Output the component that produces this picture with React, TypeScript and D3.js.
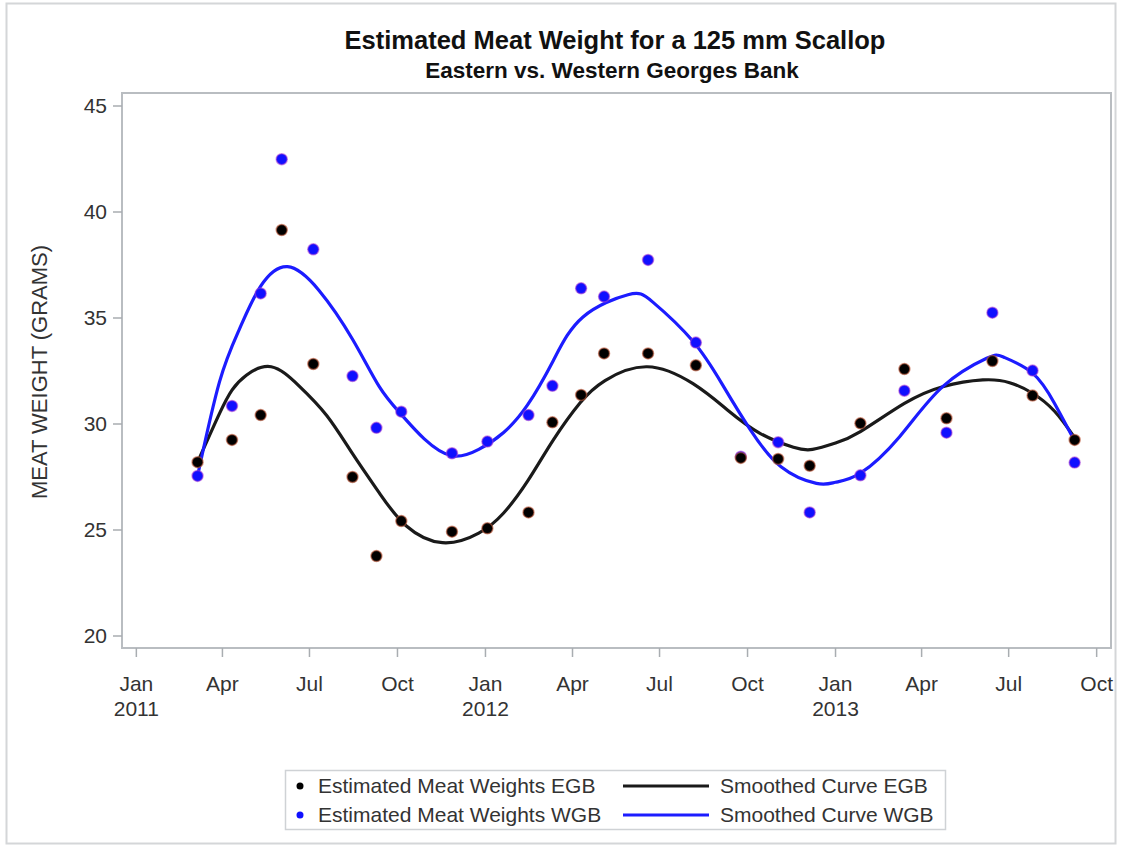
import { useEffect, useRef } from "react"
import * as d3 from "d3"

// sample dates and estimated meat weights (grams)
const sampleDates = [
  "2011-03-06", "2011-04-11", "2011-05-11", "2011-06-02", "2011-07-05",
  "2011-08-15", "2011-09-09", "2011-10-05", "2011-11-27", "2012-01-03",
  "2012-02-15", "2012-03-11", "2012-04-10", "2012-05-04", "2012-06-19",
  "2012-08-08", "2012-09-24", "2012-11-02", "2012-12-05", "2013-01-27",
  "2013-03-14", "2013-04-27", "2013-06-14", "2013-07-26", "2013-09-08",
]
const egbWeights = [
  28.2, 29.25, 30.42, 39.15, 32.83,
  27.5, 23.77, 25.42, 24.92, 25.08,
  25.83, 30.08, 31.37, 33.33, 33.33,
  32.77, 28.4, 28.35, 28.03, 30.03,
  32.59, 30.27, 32.97, 31.34, 29.25,
]
const wgbWeights = [
  27.55, 30.85, 36.16, 42.49, 38.24,
  32.26, 29.82, 30.58, 28.62, 29.17,
  30.42, 31.8, 36.4, 36.01, 37.74,
  33.84, 28.46, 29.14, 25.83, 27.58,
  31.57, 29.59, 35.25, 32.52, 28.18,
]

// smoothed curves
const egbCurveDates = [
  "2011-03-06", "2011-03-29", "2011-04-11", "2011-04-26", "2011-05-22",
  "2011-06-20", "2011-07-19", "2011-08-15", "2011-09-12", "2011-10-10",
  "2011-11-17", "2011-12-25", "2012-01-20", "2012-02-14", "2012-03-12",
  "2012-04-09", "2012-05-05", "2012-06-18", "2012-08-05", "2012-09-10",
  "2012-10-14", "2012-11-18", "2012-12-08", "2013-01-01", "2013-01-27",
  "2013-03-14", "2013-04-23", "2013-06-04", "2013-07-02", "2013-07-26",
  "2013-08-18", "2013-09-08",
]
const egbCurve = [
  28.2, 30.5, 31.6, 32.3, 32.7,
  31.8, 30.4, 28.6, 26.75, 25.2,
  24.4, 24.85, 25.8, 27.3, 29.25,
  31.0, 32.05, 32.7, 31.9, 30.66,
  29.56, 28.9, 28.8, 29.1, 29.64,
  30.97, 31.76, 32.08, 31.95, 31.45,
  30.6, 29.35,
]
const wgbCurveDates = [
  "2011-03-06", "2011-03-29", "2011-04-19", "2011-05-11", "2011-06-08",
  "2011-07-11", "2011-08-15", "2011-09-12", "2011-10-04",
  "2011-10-29", "2011-11-27", "2011-12-25", "2012-01-20", "2012-02-14",
  "2012-03-12", "2012-04-12", "2012-05-29", "2012-06-24",
  "2012-08-05", "2012-09-06", "2012-10-04", "2012-11-05", "2012-12-12",
  "2013-01-01", "2013-01-27", "2013-03-09", "2013-04-23", "2013-06-08",
  "2013-06-26", "2013-07-26", "2013-08-18", "2013-09-08",
]
const wgbCurve = [
  27.55, 32.0, 34.5, 36.5, 37.42,
  36.3, 34.0, 31.76, 30.5,
  29.3, 28.5, 28.8, 29.6, 30.9,
  33.0, 35.05, 36.1, 35.75,
  33.9, 31.76, 29.72, 27.98, 27.2,
  27.25, 27.68, 29.4, 31.76, 33.1,
  33.15, 32.4, 30.97, 29.2,
]

const yTicks = [20, 25, 30, 35, 40, 45]
const xTickDates = [
  "2011-01-01", "2011-04-01", "2011-07-01", "2011-10-01",
  "2012-01-01", "2012-04-01", "2012-07-01", "2012-10-01",
  "2013-01-01", "2013-04-01", "2013-07-01", "2013-10-01",
]
const xTickMonths = ["Jan", "Apr", "Jul", "Oct", "Jan", "Apr", "Jul", "Oct", "Jan", "Apr", "Jul", "Oct"]
const xTickYears = ["2011", "", "", "", "2012", "", "", "", "2013", "", "", ""]

const legendItems = [
  { label: "Estimated Meat Weights EGB", kind: "dot", color: "#000000" },
  { label: "Smoothed Curve EGB", kind: "line", color: "#1a1a1a" },
  { label: "Estimated Meat Weights WGB", kind: "dot", color: "#1010ff" },
  { label: "Smoothed Curve WGB", kind: "line", color: "#1c1cff" },
]

const W = 1121
const H = 846
const FONT = "'Liberation Sans', Arial, sans-serif"

export default function App() {
  const svgRef = useRef<SVGSVGElement>(null)

  useEffect(() => {
    const svg = d3.select(svgRef.current)
    svg.selectAll("*").remove()

    const parse = d3.timeParse("%Y-%m-%d")
    const plot = { left: 122, right: 1111, top: 93, bottom: 648 }

    const x = d3.scaleTime()
      .domain([parse("2010-12-17")!, parse("2013-10-16")!])
      .range([plot.left, plot.right])
    const y = d3.scaleLinear().domain([20, 45]).range([636, 106])

    // outer border
    svg.append("rect")
      .attr("x", 6.5).attr("y", 3.5).attr("width", W - 12).attr("height", H - 6)
      .attr("fill", "white").attr("stroke", "#d4d6d8").attr("stroke-width", 2)

    // titles
    svg.append("text")
      .attr("x", 615).attr("y", 49)
      .attr("text-anchor", "middle")
      .style("font-family", FONT).style("font-weight", "bold").style("font-size", "25.5px")
      .attr("fill", "#111")
      .text("Estimated Meat Weight for a 125 mm Scallop")
    svg.append("text")
      .attr("x", 612).attr("y", 78)
      .attr("text-anchor", "middle")
      .style("font-family", FONT).style("font-weight", "bold").style("font-size", "22.5px")
      .attr("fill", "#111")
      .text("Eastern vs. Western Georges Bank")

    // plot frame
    svg.append("rect")
      .attr("x", plot.left).attr("y", plot.top)
      .attr("width", plot.right - plot.left).attr("height", plot.bottom - plot.top)
      .attr("fill", "white").attr("stroke", "#b9bdc1").attr("stroke-width", 2)

    // y axis
    const yAxis = svg.append("g")
    yTicks.forEach(t => {
      yAxis.append("line")
        .attr("x1", plot.left - 9).attr("x2", plot.left)
        .attr("y1", y(t)).attr("y2", y(t))
        .attr("stroke", "#a9adb1").attr("stroke-width", 1.5)
      yAxis.append("text")
        .attr("x", plot.left - 15).attr("y", y(t))
        .attr("dy", "0.35em")
        .attr("text-anchor", "end")
        .style("font-family", FONT).style("font-size", "21px")
        .attr("fill", "#333")
        .text(t)
    })
    svg.append("text")
      .attr("transform", `translate(47, 372) rotate(-90)`)
      .attr("text-anchor", "middle")
      .style("font-family", FONT).style("font-size", "22px")
      .attr("fill", "#333")
      .text("MEAT WEIGHT (GRAMS)")

    // x axis
    const xAxis = svg.append("g")
    xTickDates.forEach((d, i) => {
      const px = x(parse(d)!)
      xAxis.append("line")
        .attr("x1", px).attr("x2", px)
        .attr("y1", plot.bottom).attr("y2", plot.bottom + 9)
        .attr("stroke", "#a9adb1").attr("stroke-width", 1.5)
      xAxis.append("text")
        .attr("x", px).attr("y", 691)
        .attr("text-anchor", "middle")
        .style("font-family", FONT).style("font-size", "21px")
        .attr("fill", "#333")
        .text(xTickMonths[i])
      if (xTickYears[i]) {
        xAxis.append("text")
          .attr("x", px).attr("y", 716)
          .attr("text-anchor", "middle")
          .style("font-family", FONT).style("font-size", "21px")
          .attr("fill", "#333")
          .text(xTickYears[i])
      }
    })

    // smoothed curves
    const curveLine = d3.line<[Date, number]>()
      .x(d => x(d[0]))
      .y(d => y(d[1]))
      .curve(d3.curveNatural)

    const egbPts = egbCurveDates.map((d, i) => [parse(d)!, egbCurve[i]] as [Date, number])
    const wgbPts = wgbCurveDates.map((d, i) => [parse(d)!, wgbCurve[i]] as [Date, number])

    svg.append("path")
      .attr("d", curveLine(egbPts))
      .attr("fill", "none").attr("stroke", "#1a1a1a").attr("stroke-width", 3.2)
    svg.append("path")
      .attr("d", curveLine(wgbPts))
      .attr("fill", "none").attr("stroke", "#1c1cff").attr("stroke-width", 3.2)

    // sample points
    const dates = sampleDates.map(d => parse(d)!)
    svg.append("g").selectAll("circle")
      .data(dates)
      .enter().append("circle")
      .attr("cx", d => x(d))
      .attr("cy", (d, i) => y(wgbWeights[i]))
      .attr("r", 5.5)
      .attr("fill", "#1010ff")
      .attr("stroke", "rgba(170,60,210,0.55)").attr("stroke-width", 1.5)
    svg.append("g").selectAll("circle")
      .data(dates)
      .enter().append("circle")
      .attr("cx", d => x(d))
      .attr("cy", (d, i) => y(egbWeights[i]))
      .attr("r", 5.5)
      .attr("fill", "#000")
      .attr("stroke", "rgba(190,90,60,0.6)").attr("stroke-width", 1.5)

    // legend
    const legend = svg.append("g").attr("transform", "translate(285, 770)")
    legend.append("rect")
      .attr("x", 0.5).attr("y", 0.5).attr("width", 660).attr("height", 59)
      .attr("fill", "white").attr("stroke", "#cfd2d5").attr("stroke-width", 1.5)
    legendItems.forEach((item, i) => {
      const cy = i < 2 ? 16 : 45
      if (item.kind === "dot") {
        legend.append("circle")
          .attr("cx", 15).attr("cy", cy).attr("r", 3.5).attr("fill", item.color)
        legend.append("text")
          .attr("x", 33).attr("y", cy).attr("dy", "0.35em")
          .style("font-family", FONT).style("font-size", "21px")
          .attr("fill", "#333")
          .text(item.label)
      } else {
        legend.append("line")
          .attr("x1", 338).attr("x2", 424).attr("y1", cy).attr("y2", cy)
          .attr("stroke", item.color).attr("stroke-width", 3.2)
        legend.append("text")
          .attr("x", 435).attr("y", cy).attr("dy", "0.35em")
          .style("font-family", FONT).style("font-size", "21px")
          .attr("fill", "#333")
          .text(item.label)
      }
    })
  }, [])

  return (
    <div style={{ position: "absolute", left: 0, top: 0 }}>
      <svg ref={svgRef} width={W} height={H} />
    </div>
  )
}
